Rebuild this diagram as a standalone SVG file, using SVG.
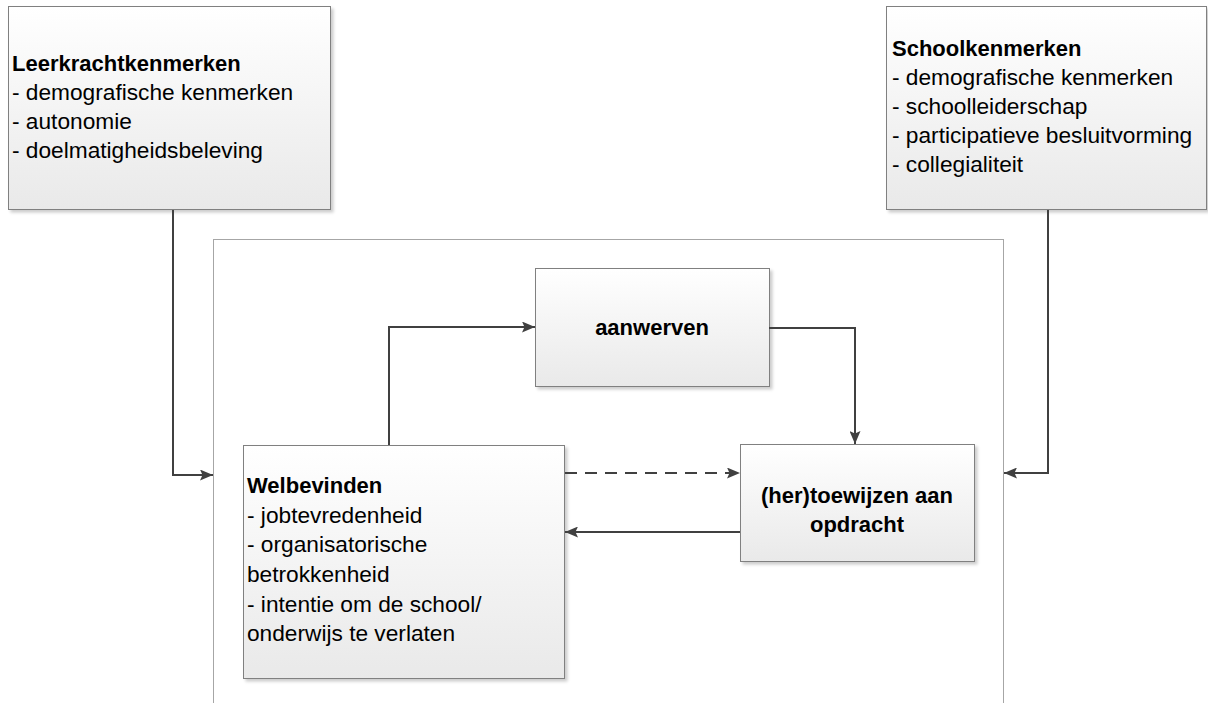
<svg xmlns="http://www.w3.org/2000/svg" width="1208" height="703" viewBox="0 0 1208 703">
  <defs>
    <linearGradient id="boxGrad" x1="0" y1="0" x2="0" y2="1">
      <stop offset="0" stop-color="#ffffff"/>
      <stop offset="1" stop-color="#e9e9e9"/>
    </linearGradient>
    <filter id="shadow" x="-5%" y="-5%" width="115%" height="115%">
      <feDropShadow dx="2.5" dy="2.5" stdDeviation="1.5" flood-color="#000" flood-opacity="0.2"/>
    </filter>
    <marker id="arrow" viewBox="0 0 13 11" refX="13" refY="5.5" markerWidth="13" markerHeight="11" markerUnits="userSpaceOnUse" orient="auto">
      <path d="M0,0 L13,5.5 L0,11 L2.5,5.5 z" fill="#404040"/>
    </marker>
  </defs>
  <style>
    .box { fill: url(#boxGrad); stroke: #808080; stroke-width: 1; filter: url(#shadow); }
    .container { fill: #ffffff; stroke: #a6a6a6; stroke-width: 1; }
    .t { font-family: "Liberation Sans", Arial, sans-serif; font-size: 22.7px; fill: #000; }
    .b { font-weight: bold; font-size: 22px; }
    .c { text-anchor: middle; }
    .conn { fill: none; stroke: #404040; stroke-width: 2; marker-end: url(#arrow); }
    .dash { stroke-dasharray: 12 8; }
  </style>
  <rect width="1208" height="703" fill="#ffffff"/>

  <g id="container">
    <rect class="container" x="213.5" y="239.5" width="790" height="480"/>
  </g>

  <g id="leerkracht">
    <rect class="box" x="8.5" y="6.5" width="322" height="203"/>
    <text class="t b" x="12" y="71">Leerkrachtkenmerken</text>
    <text class="t" x="12" y="100">- demografische kenmerken</text>
    <text class="t" x="12" y="129">- autonomie</text>
    <text class="t" x="12" y="158">- doelmatigheidsbeleving</text>
  </g>

  <g id="school">
    <rect class="box" x="886.5" y="6.5" width="320" height="203"/>
    <text class="t b" x="892" y="56">Schoolkenmerken</text>
    <text class="t" x="892" y="85">- demografische kenmerken</text>
    <text class="t" x="892" y="114">- schoolleiderschap</text>
    <text class="t" x="892" y="143">- participatieve besluitvorming</text>
    <text class="t" x="892" y="172">- collegialiteit</text>
  </g>

  <g id="aanwerven">
    <rect class="box" x="535.5" y="268.5" width="234" height="118"/>
    <text class="t b c" x="652" y="335">aanwerven</text>
  </g>

  <g id="toewijzen">
    <rect class="box" x="740.5" y="444.5" width="234" height="117"/>
    <text class="t b c" x="857" y="503">(her)toewijzen aan</text>
    <text class="t b c" x="857" y="532">opdracht</text>
  </g>

  <g id="welbevinden">
    <rect class="box" x="243.5" y="445.5" width="321" height="233"/>
    <text class="t b" x="247" y="493">Welbevinden</text>
    <text class="t" x="247" y="523">- jobtevredenheid</text>
    <text class="t" x="247" y="552">- organisatorische</text>
    <text class="t" x="247" y="582">betrokkenheid</text>
    <text class="t" x="247" y="612">- intentie om de school/</text>
    <text class="t" x="247" y="641">onderwijs te verlaten</text>
  </g>

  <g id="connectors">
    <path class="conn" d="M173,210 V475 H213"/>
    <path class="conn" d="M1048,210 V473 H1004"/>
    <path class="conn" d="M389,445 V327 H535"/>
    <path class="conn" d="M769,328 H855 V444"/>
    <path class="conn dash" d="M565,473 H740"/>
    <path class="conn" d="M740,532 H565"/>
  </g>
</svg>
